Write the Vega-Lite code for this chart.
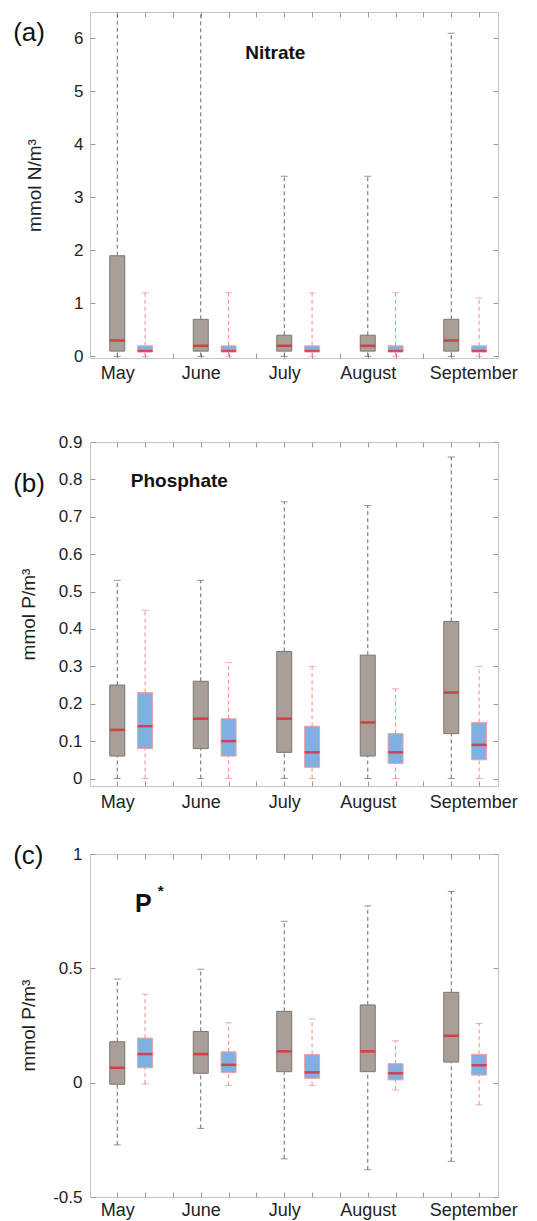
{
  "$schema": "https://vega.github.io/schema/vega-lite/v6.json",
  "background": "white",
  "padding": {"left": 12, "top": 11, "right": 5, "bottom": 5},
  "datasets": {
    "nitrate": [
      {"month": "May", "group": "Gray", "lo": 0, "q1": 0.1, "med": 0.3, "q3": 1.9, "hi": 7.0},
      {"month": "May", "group": "Blue", "lo": 0, "q1": 0.1, "med": 0.1, "q3": 0.2, "hi": 1.2},
      {"month": "June", "group": "Gray", "lo": 0, "q1": 0.1, "med": 0.2, "q3": 0.7, "hi": 7.0},
      {"month": "June", "group": "Blue", "lo": 0, "q1": 0.1, "med": 0.1, "q3": 0.2, "hi": 1.2},
      {"month": "July", "group": "Gray", "lo": 0, "q1": 0.1, "med": 0.2, "q3": 0.4, "hi": 3.4},
      {"month": "July", "group": "Blue", "lo": 0, "q1": 0.1, "med": 0.1, "q3": 0.2, "hi": 1.2},
      {"month": "August", "group": "Gray", "lo": 0, "q1": 0.1, "med": 0.2, "q3": 0.4, "hi": 3.4},
      {"month": "August", "group": "Blue", "lo": 0, "q1": 0.1, "med": 0.1, "q3": 0.2, "hi": 1.2},
      {"month": "September", "group": "Gray", "lo": 0, "q1": 0.1, "med": 0.3, "q3": 0.7, "hi": 6.1},
      {"month": "September", "group": "Blue", "lo": 0, "q1": 0.1, "med": 0.1, "q3": 0.2, "hi": 1.1}
    ],
    "phosphate": [
      {"month": "May", "group": "Gray", "lo": 0, "q1": 0.06, "med": 0.13, "q3": 0.25, "hi": 0.53},
      {"month": "May", "group": "Blue", "lo": 0, "q1": 0.08, "med": 0.14, "q3": 0.23, "hi": 0.45},
      {"month": "June", "group": "Gray", "lo": 0, "q1": 0.08, "med": 0.16, "q3": 0.26, "hi": 0.53},
      {"month": "June", "group": "Blue", "lo": 0, "q1": 0.06, "med": 0.10, "q3": 0.16, "hi": 0.31},
      {"month": "July", "group": "Gray", "lo": 0, "q1": 0.07, "med": 0.16, "q3": 0.34, "hi": 0.74},
      {"month": "July", "group": "Blue", "lo": 0, "q1": 0.03, "med": 0.07, "q3": 0.14, "hi": 0.30},
      {"month": "August", "group": "Gray", "lo": 0, "q1": 0.06, "med": 0.15, "q3": 0.33, "hi": 0.73},
      {"month": "August", "group": "Blue", "lo": 0, "q1": 0.04, "med": 0.07, "q3": 0.12, "hi": 0.24},
      {"month": "September", "group": "Gray", "lo": 0, "q1": 0.12, "med": 0.23, "q3": 0.42, "hi": 0.86},
      {"month": "September", "group": "Blue", "lo": 0, "q1": 0.05, "med": 0.09, "q3": 0.15, "hi": 0.30}
    ],
    "pstar": [
      {"month": "May", "group": "Gray", "lo": -0.272, "q1": -0.007, "med": 0.065, "q3": 0.179, "hi": 0.453},
      {"month": "May", "group": "Blue", "lo": -0.006, "q1": 0.065, "med": 0.125, "q3": 0.195, "hi": 0.387},
      {"month": "June", "group": "Gray", "lo": -0.2, "q1": 0.041, "med": 0.125, "q3": 0.224, "hi": 0.496},
      {"month": "June", "group": "Blue", "lo": -0.012, "q1": 0.044, "med": 0.078, "q3": 0.135, "hi": 0.262},
      {"month": "July", "group": "Gray", "lo": -0.333, "q1": 0.048, "med": 0.137, "q3": 0.312, "hi": 0.706},
      {"month": "July", "group": "Blue", "lo": -0.012, "q1": 0.019, "med": 0.045, "q3": 0.124, "hi": 0.279},
      {"month": "August", "group": "Gray", "lo": -0.381, "q1": 0.048, "med": 0.137, "q3": 0.340, "hi": 0.773},
      {"month": "August", "group": "Blue", "lo": -0.032, "q1": 0.012, "med": 0.041, "q3": 0.083, "hi": 0.183},
      {"month": "September", "group": "Gray", "lo": -0.344, "q1": 0.09, "med": 0.205, "q3": 0.395, "hi": 0.836},
      {"month": "September", "group": "Blue", "lo": -0.097, "q1": 0.033, "med": 0.076, "q3": 0.124, "hi": 0.259}
    ]
  },
  "bounds": "flush",
  "spacing": 84,
  "vconcat": [
    {
      "width": 408, "height": 346,
      "data": {"name": "nitrate"},
      "transform": [{"calculate": "indexof(['May','June','July','August','September'], datum.month)*3 + (datum.group === 'Blue' ? 2 : 1)", "as": "pos"}],
      "resolve": {"axis": {"x": "independent", "y": "independent"}},
      "layer": [
        {"mark": {"type": "rule", "strokeDash": [4, 3], "strokeWidth": 1, "clip": true},
         "encoding": {
           "x": {"field": "pos", "type": "quantitative", "scale": {"domain": [0.2, 14.5], "nice": false, "zero": false}, "axis": null},
           "y": {"field": "q3", "type": "quantitative", "scale": {"domain": [-0.03, 6.5], "nice": false, "zero": false}, "axis": null},
           "y2": {"field": "hi"},
           "color": {"field": "group", "type": "nominal", "scale": {"domain": ["Gray", "Blue"], "range": ["#6a6a6a", "#f08a8a"]}, "legend": null}}},
        {"mark": {"type": "rule", "strokeDash": [4, 3], "strokeWidth": 1, "clip": true},
         "encoding": {
           "x": {"field": "pos", "type": "quantitative", "axis": null},
           "y": {"field": "lo", "type": "quantitative", "axis": null},
           "y2": {"field": "q1"},
           "color": {"field": "group", "type": "nominal", "legend": null}}},
        {"mark": {"type": "tick", "orient": "horizontal", "size": 7, "thickness": 1, "clip": true},
         "encoding": {
           "x": {"field": "pos", "type": "quantitative", "axis": null},
           "y": {"field": "hi", "type": "quantitative", "axis": null},
           "color": {"field": "group", "type": "nominal", "legend": null}}},
        {"mark": {"type": "tick", "orient": "horizontal", "size": 7, "thickness": 1, "clip": true},
         "encoding": {
           "x": {"field": "pos", "type": "quantitative", "axis": null},
           "y": {"field": "lo", "type": "quantitative", "axis": null},
           "color": {"field": "group", "type": "nominal", "legend": null}}},
        {"mark": {"type": "bar", "width": 15, "strokeWidth": 1},
         "encoding": {
           "x": {"field": "pos", "type": "quantitative",
                 "axis": {"orient": "bottom", "values": [1,2,3,4,5,6,7,8,9,10,11,12,13,14], "title": null,
                          "labelExpr": "datum.value==1?'May':datum.value==4?'June':datum.value==7?'July':datum.value==10?'August':datum.value==13?'September':''",
                          "labelOffset": {"condition": {"test": "datum.value==13", "value": 22}, "value": 0},
                          "tickSize": -5, "labelPadding": 11, "labelFlush": false, "labelOverlap": false, "labelFontSize": 18}},
           "y": {"field": "q1", "type": "quantitative",
                 "axis": {"orient": "left", "values": [0,1,2,3,4,5,6], "labelExpr": "'' + datum.value",
                          "title": "mmol N/m³", "titleX": -46, "titleY": 173, "titleFontSize": 19, "titleFontWeight": "normal",
                          "tickSize": -5, "labelPadding": 12, "labelFlush": false, "labelOverlap": false, "labelFontSize": 17}},
           "y2": {"field": "q3"},
           "fill": {"field": "group", "type": "nominal", "scale": {"domain": ["Gray", "Blue"], "range": ["#a89f99", "#7eb1e2"]}, "legend": null},
           "stroke": {"field": "group", "type": "nominal", "scale": {"domain": ["Gray", "Blue"], "range": ["#7d7570", "#f4a0a0"]}, "legend": null}}},
        {"mark": {"type": "tick", "orient": "horizontal", "size": 15, "thickness": 2.5, "color": "#e8171d"},
         "encoding": {
           "x": {"field": "pos", "type": "quantitative",
                 "axis": {"orient": "top", "values": [1,2,3,4,5,6,7,8,9,10,11,12,13,14], "labels": false, "title": null, "tickSize": -5}},
           "y": {"field": "med", "type": "quantitative",
                 "axis": {"orient": "right", "values": [0,1,2,3,4,5,6], "labels": false, "title": null, "tickSize": -5}}}},
        {"data": {"values": [{}]},
         "mark": {"type": "text", "text": "Nitrate", "fontWeight": "bold", "fontSize": 19, "align": "center", "baseline": "middle", "color": "#111"},
         "encoding": {"x": {"datum": 6.68, "type": "quantitative", "axis": null}, "y": {"datum": 5.73, "type": "quantitative", "axis": null}}},
        {"data": {"values": [{}]},
         "mark": {"type": "text", "text": "(a)", "fontSize": 26, "align": "left", "baseline": "middle", "color": "#111"},
         "encoding": {"x": {"datum": -2.74, "type": "quantitative", "axis": null}, "y": {"datum": 6.1, "type": "quantitative", "axis": null}}}
      ]
    },
    {
      "bounds": "flush",
      "spacing": 68,
      "vconcat": [
        {
          "width": 408, "height": 344,
          "data": {"name": "phosphate"},
          "transform": [{"calculate": "indexof(['May','June','July','August','September'], datum.month)*3 + (datum.group === 'Blue' ? 2 : 1)", "as": "pos"}],
          "resolve": {"axis": {"x": "independent", "y": "independent"}},
          "layer": [
            {"mark": {"type": "rule", "strokeDash": [4, 3], "strokeWidth": 1, "clip": true},
             "encoding": {
               "x": {"field": "pos", "type": "quantitative", "scale": {"domain": [0.2, 14.5], "nice": false, "zero": false}, "axis": null},
               "y": {"field": "q3", "type": "quantitative", "scale": {"domain": [-0.02, 0.9], "nice": false, "zero": false}, "axis": null},
               "y2": {"field": "hi"},
               "color": {"field": "group", "type": "nominal", "scale": {"domain": ["Gray", "Blue"], "range": ["#6a6a6a", "#f08a8a"]}, "legend": null}}},
            {"mark": {"type": "rule", "strokeDash": [4, 3], "strokeWidth": 1, "clip": true},
             "encoding": {
               "x": {"field": "pos", "type": "quantitative", "axis": null},
               "y": {"field": "lo", "type": "quantitative", "axis": null},
               "y2": {"field": "q1"},
               "color": {"field": "group", "type": "nominal", "legend": null}}},
            {"mark": {"type": "tick", "orient": "horizontal", "size": 7, "thickness": 1, "clip": true},
             "encoding": {
               "x": {"field": "pos", "type": "quantitative", "axis": null},
               "y": {"field": "hi", "type": "quantitative", "axis": null},
               "color": {"field": "group", "type": "nominal", "legend": null}}},
            {"mark": {"type": "tick", "orient": "horizontal", "size": 7, "thickness": 1, "clip": true},
             "encoding": {
               "x": {"field": "pos", "type": "quantitative", "axis": null},
               "y": {"field": "lo", "type": "quantitative", "axis": null},
               "color": {"field": "group", "type": "nominal", "legend": null}}},
            {"mark": {"type": "bar", "width": 15, "strokeWidth": 1},
             "encoding": {
               "x": {"field": "pos", "type": "quantitative",
                     "axis": {"orient": "bottom", "values": [1,2,3,4,5,6,7,8,9,10,11,12,13,14], "title": null,
                              "labelExpr": "datum.value==1?'May':datum.value==4?'June':datum.value==7?'July':datum.value==10?'August':datum.value==13?'September':''",
                              "labelOffset": {"condition": {"test": "datum.value==13", "value": 22}, "value": 0},
                              "tickSize": -5, "labelPadding": 12, "labelFlush": false, "labelOverlap": false, "labelFontSize": 18}},
               "y": {"field": "q1", "type": "quantitative",
                     "axis": {"orient": "left", "values": [0,0.1,0.2,0.3,0.4,0.5,0.6,0.7,0.8,0.9], "labelExpr": "'' + datum.value",
                              "title": "mmol P/m³", "titleX": -52, "titleY": 172, "titleFontSize": 19, "titleFontWeight": "normal",
                              "tickSize": -5, "labelPadding": 13, "labelFlush": false, "labelOverlap": false, "labelFontSize": 17}},
               "y2": {"field": "q3"},
               "fill": {"field": "group", "type": "nominal", "scale": {"domain": ["Gray", "Blue"], "range": ["#a89f99", "#7eb1e2"]}, "legend": null},
               "stroke": {"field": "group", "type": "nominal", "scale": {"domain": ["Gray", "Blue"], "range": ["#7d7570", "#f4a0a0"]}, "legend": null}}},
            {"mark": {"type": "tick", "orient": "horizontal", "size": 15, "thickness": 2.5, "color": "#e8171d"},
             "encoding": {
               "x": {"field": "pos", "type": "quantitative",
                     "axis": {"orient": "top", "values": [1,2,3,4,5,6,7,8,9,10,11,12,13,14], "labels": false, "title": null, "tickSize": -5}},
               "y": {"field": "med", "type": "quantitative",
                     "axis": {"orient": "right", "values": [0,0.1,0.2,0.3,0.4,0.5,0.6,0.7,0.8,0.9], "labels": false, "title": null, "tickSize": -5}}}},
            {"data": {"values": [{}]},
             "mark": {"type": "text", "text": "Phosphate", "fontWeight": "bold", "fontSize": 19, "align": "center", "baseline": "middle", "color": "#111"},
             "encoding": {"x": {"datum": 3.23, "type": "quantitative", "axis": null}, "y": {"datum": 0.796, "type": "quantitative", "axis": null}}},
            {"data": {"values": [{}]},
             "mark": {"type": "text", "text": "(b)", "fontSize": 26, "align": "left", "baseline": "middle", "color": "#111"},
             "encoding": {"x": {"datum": -2.74, "type": "quantitative", "axis": null}, "y": {"datum": 0.788, "type": "quantitative", "axis": null}}}
          ]
        },
        {
          "width": 408, "height": 343,
          "data": {"name": "pstar"},
          "transform": [{"calculate": "indexof(['May','June','July','August','September'], datum.month)*3 + (datum.group === 'Blue' ? 2 : 1)", "as": "pos"}],
          "resolve": {"axis": {"x": "independent", "y": "independent"}},
          "layer": [
            {"mark": {"type": "rule", "strokeDash": [4, 3], "strokeWidth": 1, "clip": true},
             "encoding": {
               "x": {"field": "pos", "type": "quantitative", "scale": {"domain": [0.2, 14.5], "nice": false, "zero": false}, "axis": null},
               "y": {"field": "q3", "type": "quantitative", "scale": {"domain": [-0.5, 1], "nice": false, "zero": false}, "axis": null},
               "y2": {"field": "hi"},
               "color": {"field": "group", "type": "nominal", "scale": {"domain": ["Gray", "Blue"], "range": ["#6a6a6a", "#f08a8a"]}, "legend": null}}},
            {"mark": {"type": "rule", "strokeDash": [4, 3], "strokeWidth": 1, "clip": true},
             "encoding": {
               "x": {"field": "pos", "type": "quantitative", "axis": null},
               "y": {"field": "lo", "type": "quantitative", "axis": null},
               "y2": {"field": "q1"},
               "color": {"field": "group", "type": "nominal", "legend": null}}},
            {"mark": {"type": "tick", "orient": "horizontal", "size": 7, "thickness": 1, "clip": true},
             "encoding": {
               "x": {"field": "pos", "type": "quantitative", "axis": null},
               "y": {"field": "hi", "type": "quantitative", "axis": null},
               "color": {"field": "group", "type": "nominal", "legend": null}}},
            {"mark": {"type": "tick", "orient": "horizontal", "size": 7, "thickness": 1, "clip": true},
             "encoding": {
               "x": {"field": "pos", "type": "quantitative", "axis": null},
               "y": {"field": "lo", "type": "quantitative", "axis": null},
               "color": {"field": "group", "type": "nominal", "legend": null}}},
            {"mark": {"type": "bar", "width": 15, "strokeWidth": 1},
             "encoding": {
               "x": {"field": "pos", "type": "quantitative",
                     "axis": {"orient": "bottom", "values": [1,2,3,4,5,6,7,8,9,10,11,12,13,14], "title": null,
                              "labelExpr": "datum.value==1?'May':datum.value==4?'June':datum.value==7?'July':datum.value==10?'August':datum.value==13?'September':''",
                              "labelOffset": {"condition": {"test": "datum.value==13", "value": 22}, "value": 0},
                              "tickSize": -5, "labelPadding": 9, "labelFlush": false, "labelOverlap": false, "labelFontSize": 18}},
               "y": {"field": "q1", "type": "quantitative",
                     "axis": {"orient": "left", "values": [-0.5, 0, 0.5, 1], "labelExpr": "'' + datum.value",
                              "title": "mmol P/m³", "titleX": -52, "titleY": 171, "titleFontSize": 19, "titleFontWeight": "normal",
                              "tickSize": -5, "labelPadding": 13, "labelFlush": false, "labelOverlap": false, "labelFontSize": 17}},
               "y2": {"field": "q3"},
               "fill": {"field": "group", "type": "nominal", "scale": {"domain": ["Gray", "Blue"], "range": ["#a89f99", "#7eb1e2"]}, "legend": null},
               "stroke": {"field": "group", "type": "nominal", "scale": {"domain": ["Gray", "Blue"], "range": ["#7d7570", "#f4a0a0"]}, "legend": null}}},
            {"mark": {"type": "tick", "orient": "horizontal", "size": 15, "thickness": 2.5, "color": "#e8171d"},
             "encoding": {
               "x": {"field": "pos", "type": "quantitative",
                     "axis": {"orient": "top", "values": [1,2,3,4,5,6,7,8,9,10,11,12,13,14], "labels": false, "title": null, "tickSize": -5}},
               "y": {"field": "med", "type": "quantitative",
                     "axis": {"orient": "right", "values": [-0.5, 0, 0.5, 1], "labels": false, "title": null, "tickSize": -5}}}},
            {"data": {"values": [{}]},
             "mark": {"type": "text", "text": "P", "fontWeight": "bold", "fontSize": 25, "align": "center", "baseline": "middle", "color": "#111"},
             "encoding": {"x": {"datum": 1.935, "type": "quantitative", "axis": null}, "y": {"datum": 0.781, "type": "quantitative", "axis": null}}},
            {"data": {"values": [{}]},
             "mark": {"type": "text", "text": "*", "fontWeight": "bold", "fontSize": 15, "align": "center", "baseline": "middle", "color": "#111"},
             "encoding": {"x": {"datum": 2.56, "type": "quantitative", "axis": null}, "y": {"datum": 0.84, "type": "quantitative", "axis": null}}},
            {"data": {"values": [{}]},
             "mark": {"type": "text", "text": "(c)", "fontSize": 26, "align": "left", "baseline": "middle", "color": "#111"},
             "encoding": {"x": {"datum": -2.74, "type": "quantitative", "axis": null}, "y": {"datum": 0.991, "type": "quantitative", "axis": null}}}
          ]
        }
      ]
    }
  ],
  "config": {
    "font": "Liberation Sans",
    "view": {"stroke": "#c4c4c4", "strokeWidth": 1},
    "axis": {"labelFont": "Liberation Sans", "titleFont": "Liberation Sans", "labelColor": "#222", "titleColor": "#222",
             "tickColor": "#9a9a9a", "tickWidth": 1, "grid": false, "domain": false},
    "text": {"font": "Liberation Sans"}
  }
}
